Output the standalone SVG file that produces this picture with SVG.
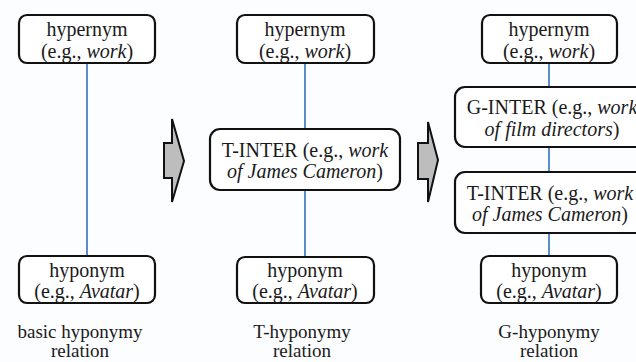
<svg xmlns="http://www.w3.org/2000/svg" width="636" height="362" viewBox="0 0 636 362">
<style>
.box{fill:#fff;stroke:#111;stroke-width:2.2}
.t{font-family:"Liberation Serif","Times New Roman",Times,Tinos,"Noto Serif","DejaVu Serif",FreeSerif,serif;font-size:20px;fill:#1a1a1a;text-anchor:middle}
.cap{font-size:19px}
.i{font-style:italic}
.c{stroke:#4a80c8;stroke-width:1.8;fill:none}
.arr{fill:#bdbdbd;stroke:#111;stroke-width:2;stroke-linejoin:miter}
</style>
<rect width="636" height="362" fill="#fcfdff"/>
<g id="connectors">
<line class="c" x1="87" y1="63" x2="87" y2="256"/>
<line class="c" x1="305" y1="63" x2="305" y2="129"/>
<line class="c" x1="305" y1="190" x2="305" y2="257"/>
<line class="c" x1="549" y1="63" x2="549" y2="87"/>
<line class="c" x1="549" y1="147" x2="549" y2="172"/>
<line class="c" x1="549" y1="233" x2="549" y2="256"/>
</g>
<g id="arrow1"><polygon class="arr" points="164,143 172,143 172,119 184,161 172,202 172,178 164,178"/></g>
<g id="arrow2"><polygon class="arr" points="418,143 428,143 428,122 438,160 428,202 428,179 418,179"/></g>
<g id="hyper1"><rect class="box" x="19" y="15" width="136" height="48" rx="8"/>
<text class="t" x="87" y="36">hypernym</text><text class="t" x="87" y="57.5">(e.g., <tspan class="i">work</tspan>)</text></g>
<g id="hypo1"><rect class="box" x="19" y="256" width="136" height="47" rx="8"/>
<text class="t" x="87" y="276.5">hyponym</text><text class="t" x="87" y="298">(e.g., <tspan class="i">Avatar</tspan>)</text></g>
<g id="hyper2"><rect class="box" x="237" y="15" width="137" height="48" rx="8"/>
<text class="t" x="305" y="36">hypernym</text><text class="t" x="305" y="57.5">(e.g., <tspan class="i">work</tspan>)</text></g>
<g id="tinter2"><rect class="box" x="210" y="129" width="190" height="61" rx="10"/>
<text class="t" x="305" y="156.5">T-INTER (e.g., <tspan class="i">work</tspan></text><text class="t" x="305" y="178"><tspan class="i">of James Cameron</tspan>)</text></g>
<g id="hypo2"><rect class="box" x="237" y="257" width="137" height="46" rx="8"/>
<text class="t" x="305" y="276.5">hyponym</text><text class="t" x="305" y="298">(e.g., <tspan class="i">Avatar</tspan>)</text></g>
<g id="hyper3"><rect class="box" x="482" y="15" width="135" height="48" rx="8"/>
<text class="t" x="549" y="36">hypernym</text><text class="t" x="549" y="57.5">(e.g., <tspan class="i">work</tspan>)</text></g>
<g id="ginter3"><rect class="box" x="455" y="87" width="194" height="60" rx="10"/>
<text class="t" x="552" y="114">G-INTER (e.g., <tspan class="i">work</tspan></text><text class="t" x="552" y="135.5"><tspan class="i">of film directors</tspan>)</text></g>
<g id="tinter3"><rect class="box" x="455" y="172" width="194" height="61" rx="10"/>
<text class="t" x="550" y="199.5">T-INTER (e.g., <tspan class="i">work</tspan></text><text class="t" x="550" y="221"><tspan class="i">of James Cameron</tspan>)</text></g>
<g id="hypo3"><rect class="box" x="481" y="256" width="136" height="47" rx="8"/>
<text class="t" x="549" y="276.5">hyponym</text><text class="t" x="549" y="298">(e.g., <tspan class="i">Avatar</tspan>)</text></g>
<g id="captions">
<text class="t cap" x="80" y="338">basic hyponymy</text><text class="t cap" x="80" y="357">relation</text>
<text class="t cap" x="302" y="338">T-hyponymy</text><text class="t cap" x="302" y="357">relation</text>
<text class="t cap" x="549" y="338">G-hyponymy</text><text class="t cap" x="549" y="357">relation</text>
</g>
</svg>
